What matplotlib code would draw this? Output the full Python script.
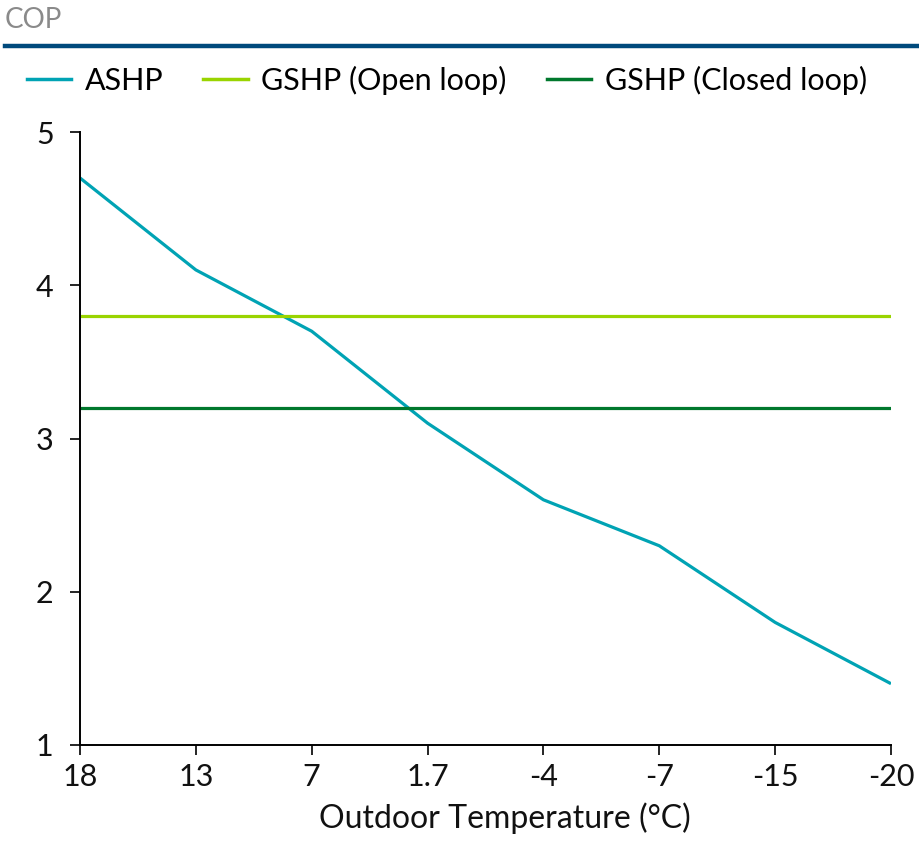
import matplotlib
matplotlib.use("Agg")
import matplotlib.pyplot as plt
from matplotlib.lines import Line2D

plt.rcParams['font.family'] = ['Lato', 'DejaVu Sans']

# Data
temperatures = ["18", "13", "7", "1.7", "-4", "-7", "-15", "-20"]
ashp_cop = [4.7, 4.1, 3.7, 3.1, 2.6, 2.3, 1.8, 1.4]
gshp_open_cop = [3.8] * len(temperatures)
gshp_closed_cop = [3.2] * len(temperatures)
y_ticks = [1, 2, 3, 4, 5]

series_names = ["ASHP", "GSHP (Open loop)", "GSHP (Closed loop)"]
colors = ["#00a3b4", "#99d400", "#00782d"]

fig = plt.figure(figsize=(9.2, 8.6), dpi=100)
ax = fig.add_axes([80 / 920, 115 / 860, (891 - 80) / 920, (745 - 132) / 860])

x = list(range(len(temperatures)))
for vals, c, name in zip([ashp_cop, gshp_open_cop, gshp_closed_cop], colors, series_names):
    ax.plot(x, vals, color=c, lw=2.3, label=name, solid_capstyle='butt')

ax.set_xlim(0, len(temperatures) - 1)
ax.set_ylim(1, 5)
ax.set_xticks(x)
ax.set_xticklabels(temperatures)
ax.set_yticks(y_ticks)
ax.tick_params(axis='both', labelsize=22, length=7, width=1.2, color='black',
               labelcolor='#111111', direction='out')
ax.tick_params(axis='y', pad=12)
ax.tick_params(axis='x', pad=6)
for s in ['top', 'right']:
    ax.spines[s].set_visible(False)
for s in ['left', 'bottom']:
    ax.spines[s].set_linewidth(1.4)
ax.set_xlabel("Outdoor Temperature (°C)", fontsize=23, color='#111111')
ax.xaxis.set_label_coords((505 - 80) / 811, -(818 - 745) / 613, transform=ax.transAxes)
ax.xaxis.label.set_va('center')

# Header
fig.text(5 / 920, 1 - 20 / 860, "COP", fontsize=20, color='#8a8a8a', va='center', ha='left')
fig.add_artist(Line2D([5 / 920, 1.0], [1 - 46 / 860, 1 - 46 / 860], color='#004a7c', lw=3.2,
                      transform=fig.transFigure))

handles = [Line2D([0], [0], color=c, lw=2.5) for c in colors]
fig.legend(handles, series_names, loc='center left', bbox_to_anchor=(27 / 920, 1 - 80 / 860),
           ncol=3, frameon=False, fontsize=22, handlelength=1.45, handletextpad=0.45,
           columnspacing=1.3, borderaxespad=0, borderpad=0)

fig.savefig("out.png", dpi=100)
